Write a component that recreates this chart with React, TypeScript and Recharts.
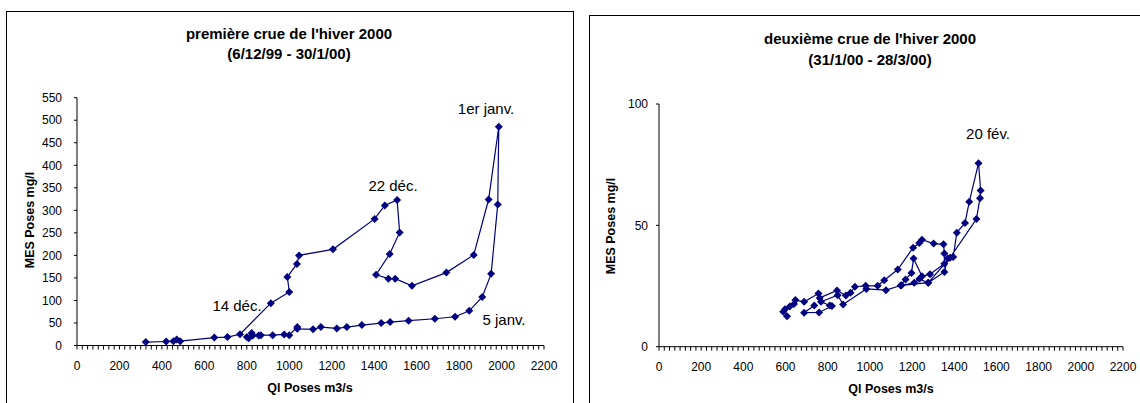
import React from "react";
import { ScatterChart, Scatter, XAxis, YAxis } from "recharts";

// première crue (6/12/99 - 30/1/00)
const crue1Debit = [
  324, 420, 454, 470, 486, 647, 709, 768, 913, 1000, 991, 1036, 1046, 1206,
  1402, 1450, 1508, 1520, 1473, 1409, 1467, 1499, 1578, 1740, 1869, 1939,
  1987, 1982, 1951, 1909, 1848, 1781, 1686, 1562, 1475, 1433, 1342, 1271,
  1224, 1149, 1112, 1038, 1038, 1000, 976, 922, 866, 856, 828, 823, 809, 800,
];
const crue1Mes = [
  7.5, 8.9, 9.7, 13.3, 9.7, 17.5, 18.6, 25, 94, 118.7, 152, 181, 200, 213.5,
  281, 311, 323, 251, 203, 157, 148.3, 148.3, 132.5, 161.8, 201, 324, 485.5,
  313, 159, 107.6, 77, 63.8, 59.4, 55, 52, 49.8, 45.3, 40.9, 37.8, 40.9, 36,
  37, 41, 23, 24.5, 23, 23, 22, 22, 27.5, 16.3, 18.6,
];

// deuxième crue (31/1/00 - 28/3/00)
const crue2Debit = [
  607, 589, 597, 620, 640, 647, 688, 756, 762, 844, 886, 908, 929, 980, 1037,
  1068, 1132, 1205, 1234, 1247, 1302, 1349, 1353, 1353, 1285, 1247, 1207,
  1197, 1169, 1146, 1210, 1234, 1276, 1353, 1369, 1395, 1412, 1451, 1471,
  1515, 1525, 1522, 1505, 1380, 1277, 1150, 1076, 983, 873, 847, 768, 810,
  820, 759, 688, 736,
];
const crue2Mes = [
  12.5, 14.4, 15.4, 16.6, 17.6, 19.2, 18.5, 21.9, 20.1, 23.2, 21.1, 22.2,
  24.7, 25.1, 25.1, 27.4, 31.8, 40.8, 42.7, 44.1, 42.5, 42.2, 38.4, 34.2,
  29.9, 29.0, 36.3, 30.4, 27.7, 25.2, 26.3, 27.9, 26.3, 30.8, 36.3, 37.0,
  47.0, 51.0, 59.7, 75.6, 64.4, 61.2, 52.6, 36.7, 26.4, 25.3, 23.3, 23.8,
  17.4, 21.2, 18.5, 17.0, 16.8, 14.1, 14.0, 17.0,
];

const xTicks = Array.from({ length: 89 }, (_, i) => i * 25);
const yTicks1 = [0, 50, 100, 150, 200, 250, 300, 350, 400, 450, 500, 550];
const yTicks2 = [0, 50, 100];

const NAVY = "#000080";
const FONT = 'Arial, "Liberation Sans", sans-serif';

const crue1 = crue1Debit.map((x, i) => ({ x, y: crue1Mes[i] }));
const crue2 = crue2Debit.map((x, i) => ({ x, y: crue2Mes[i] }));

function Diamond(props: any) {
  const { cx, cy } = props;
  const r = 4;
  return (
    <polygon
      points={`${cx},${cy - r} ${cx + r},${cy} ${cx},${cy + r} ${cx - r},${cy}`}
      fill={NAVY}
    />
  );
}

// every 25 gets a small tick, only multiples of 200 get a label
function XTick(props: any) {
  const { x, y, payload } = props;
  const major = payload.value % 200 === 0;
  const top = y - 16;
  return (
    <g>
      <line x1={x} x2={x} y1={top} y2={top + 4} stroke="#000" strokeWidth={1} />
      {major && (
        <text x={x} y={y} dy="0.71em" textAnchor="middle" fontSize={12} fill="#000">
          {payload.value}
        </text>
      )}
    </g>
  );
}

function Txt({ x, y, size, bold, rotate, children }: any) {
  return (
    <div
      style={{
        position: "absolute",
        left: x,
        top: y,
        transform: `translate(-50%, -50%)${rotate ? " rotate(-90deg)" : ""}`,
        fontSize: size,
        fontWeight: bold ? "bold" : "normal",
        whiteSpace: "nowrap",
        textAlign: "center",
        lineHeight: 1,
        color: "#000",
      }}
    >
      {children}
    </div>
  );
}

function Panel({ data, yMax, yTicks, yTickMargin, margin, width }: any) {
  return (
    <ScatterChart width={width} height={403} margin={margin}>
      <XAxis
        type="number"
        dataKey="x"
        domain={[0, 2200]}
        ticks={xTicks}
        interval={0}
        tick={<XTick />}
        tickSize={3}
        tickMargin={13}
        height={30}
        axisLine={{ stroke: "#000" }}
        tickLine={false}
      />
      <YAxis
        type="number"
        dataKey="y"
        domain={[0, yMax]}
        ticks={yTicks}
        interval={0}
        width={50}
        tickSize={3}
        tickMargin={yTickMargin}
        tick={{ fontSize: 12, fill: "#000" }}
        axisLine={{ stroke: "#000" }}
        tickLine={{ stroke: "#000" }}
      />
      <Scatter
        data={data}
        fill={NAVY}
        line={{ stroke: NAVY, strokeWidth: 1.2 }}
        lineType="joint"
        shape={<Diamond />}
        isAnimationActive={false}
      />
    </ScatterChart>
  );
}

export default function App() {
  return (
    <div
      style={{
        position: "absolute",
        left: 0,
        top: 0,
        width: 1140,
        height: 403,
        overflow: "hidden",
        background: "#fff",
        fontFamily: FONT,
      }}
    >
      <div
        style={{
          position: "absolute",
          left: 6,
          top: 11,
          width: 566,
          height: 420,
          border: "1px solid #000",
        }}
      />
      <div
        style={{
          position: "absolute",
          left: 589,
          top: 15,
          width: 600,
          height: 420,
          border: "1px solid #000",
        }}
      />

      <div style={{ position: "absolute", left: 0, top: 0 }}>
        <Panel
          data={crue1}
          yMax={550}
          yTicks={yTicks1}
          yTickMargin={12}
          width={580}
          margin={{ top: 97.7, right: 36, bottom: 27.5, left: 27 }}
        />
      </div>
      <div style={{ position: "absolute", left: 580, top: 0 }}>
        <Panel
          data={crue2}
          yMax={100}
          yTicks={yTicks2}
          yTickMargin={8}
          width={560}
          margin={{ top: 104, right: 17, bottom: 26.3, left: 29 }}
        />
      </div>

      <Txt x={289} y={33} size={15} bold>première crue de l'hiver 2000</Txt>
      <Txt x={289} y={53} size={15} bold>(6/12/99 - 30/1/00)</Txt>
      <Txt x={870} y={38} size={15} bold>deuxième crue de l'hiver 2000</Txt>
      <Txt x={870} y={59} size={15} bold>(31/1/00 - 28/3/00)</Txt>

      <Txt x={310} y={388} size={12.5} bold>Ql Poses m3/s</Txt>
      <Txt x={891} y={389} size={12.5} bold>Ql Poses m3/s</Txt>
      <Txt x={30} y={220} size={12.5} bold rotate>MES Poses mg/l</Txt>
      <Txt x={611} y={226} size={12.5} bold rotate>MES Poses mg/l</Txt>

      <Txt x={486} y={108} size={15}>1er janv.</Txt>
      <Txt x={393} y={185} size={15}>22 déc.</Txt>
      <Txt x={237} y={305} size={15}>14 déc.</Txt>
      <Txt x={504} y={319} size={15}>5 janv.</Txt>
      <Txt x={988} y={133} size={15}>20 fév.</Txt>
    </div>
  );
}
